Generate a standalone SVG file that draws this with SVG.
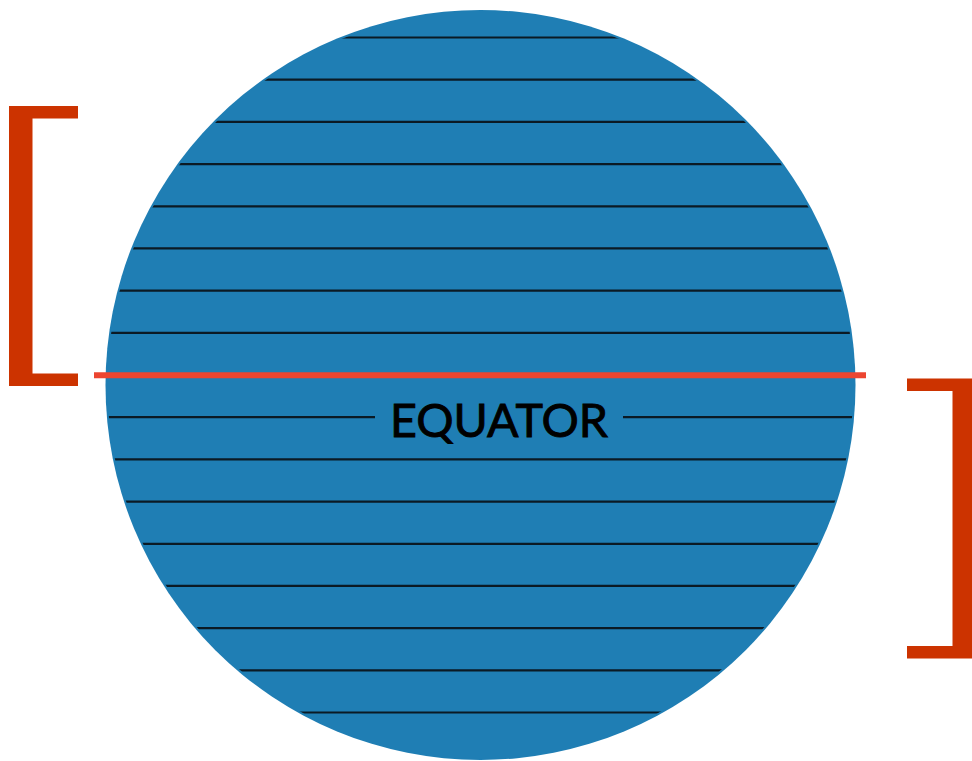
<svg xmlns="http://www.w3.org/2000/svg" width="972" height="761" viewBox="0 0 972 761">
  <defs>
    <clipPath id="globeClip">
      <circle cx="480.5" cy="385" r="373"/>
    </clipPath>
  </defs>
  <style>
    .lat { stroke: #0b1a24; stroke-width: 2.2; fill: none; }
    .bracket { fill: #CC3300; }
  </style>
  <rect width="972" height="761" fill="#ffffff"/>
  <g id="globe">
    <circle cx="480.5" cy="385" r="375" fill="#1F7EB4"/>
    <g id="latitudes" clip-path="url(#globeClip)">
      <line class="lat" x1="0" y1="37.5" x2="972" y2="37.5"/>
      <line class="lat" x1="0" y1="79.7" x2="972" y2="79.7"/>
      <line class="lat" x1="0" y1="121.9" x2="972" y2="121.9"/>
      <line class="lat" x1="0" y1="164.1" x2="972" y2="164.1"/>
      <line class="lat" x1="0" y1="206.3" x2="972" y2="206.3"/>
      <line class="lat" x1="0" y1="248.4" x2="972" y2="248.4"/>
      <line class="lat" x1="0" y1="290.6" x2="972" y2="290.6"/>
      <line class="lat" x1="0" y1="332.8" x2="972" y2="332.8"/>
      <line class="lat" x1="0" y1="417.2" x2="375" y2="417.2"/>
      <line class="lat" x1="623" y1="417.2" x2="972" y2="417.2"/>
      <line class="lat" x1="0" y1="459.4" x2="972" y2="459.4"/>
      <line class="lat" x1="0" y1="501.6" x2="972" y2="501.6"/>
      <line class="lat" x1="0" y1="543.8" x2="972" y2="543.8"/>
      <line class="lat" x1="0" y1="585.9" x2="972" y2="585.9"/>
      <line class="lat" x1="0" y1="628.1" x2="972" y2="628.1"/>
      <line class="lat" x1="0" y1="670.3" x2="972" y2="670.3"/>
      <line class="lat" x1="0" y1="712.5" x2="972" y2="712.5"/>
    </g>
  </g>
  <g id="equator">
    <line x1="94" y1="375.3" x2="866" y2="375.3" stroke="#EC4530" stroke-width="6"/>
    <text x="499" y="437" text-anchor="middle" font-family="Lato, 'Open Sans', 'Liberation Sans', sans-serif" font-size="47" fill="#000000" stroke="#000000" stroke-width="0.9" textLength="218" lengthAdjust="spacingAndGlyphs">EQUATOR</text>
  </g>
  <g id="bracket-left">
    <path class="bracket" d="M9,106 H78 V118.5 H32.5 V373.5 H78 V386 H9 Z"/>
  </g>
  <g id="bracket-right">
    <path class="bracket" d="M907,378.5 H975 V658.5 H907 V646 H952.5 V391 H907 Z"/>
  </g>
</svg>
